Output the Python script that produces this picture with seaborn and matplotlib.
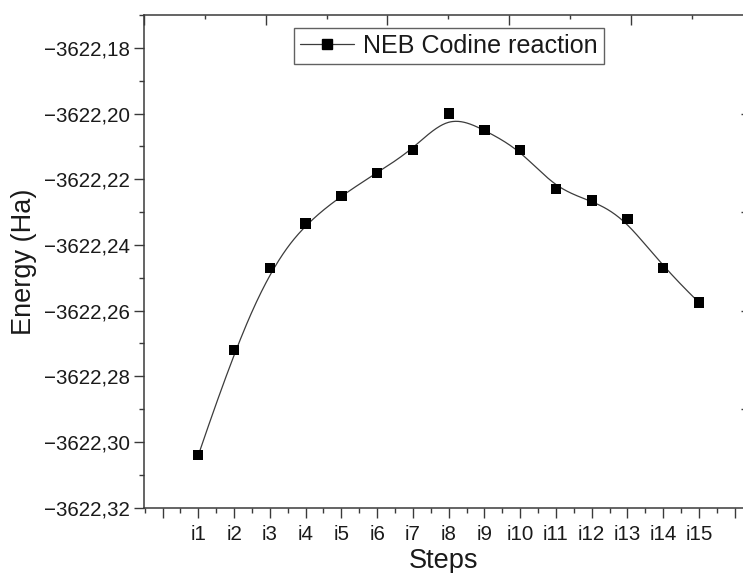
import numpy as np
import pandas as pd
import seaborn as sns
import matplotlib
matplotlib.use("Agg")
import matplotlib.pyplot as plt
from matplotlib.lines import Line2D
from matplotlib.ticker import FixedLocator, MultipleLocator, FuncFormatter

# NEB images along the reaction path and their total energies (Hartree)
steps = ["i1", "i2", "i3", "i4", "i5", "i6", "i7", "i8",
         "i9", "i10", "i11", "i12", "i13", "i14", "i15"]
step_pos = list(range(1, 16))
energy = [-3622.304, -3622.272, -3622.247, -3622.2335, -3622.225,
          -3622.218, -3622.211, -3622.200, -3622.205, -3622.211,
          -3622.223, -3622.2265, -3622.232, -3622.247, -3622.2575]
series_name = "NEB Codine reaction"


def bspline_curve(xs, ys, degree=3, samples=600):
    """Clamped uniform B-spline that uses the points as control points."""
    pts = np.column_stack([xs, ys]).astype(float)
    n = len(pts)
    inner = np.linspace(0, 1, n - degree + 1)
    knots = np.concatenate([[0.0] * degree, inner, [1.0] * degree])
    t = np.linspace(0, 1, samples)
    t[-1] -= 1e-12
    # Cox-de Boor recursion
    N = np.zeros((samples, len(knots) - 1))
    for i in range(len(knots) - 1):
        N[:, i] = (t >= knots[i]) & (t < knots[i + 1])
    for k in range(1, degree + 1):
        Nn = np.zeros((samples, len(knots) - 1 - k))
        for i in range(len(knots) - 1 - k):
            a = knots[i + k] - knots[i]
            b = knots[i + k + 1] - knots[i + 1]
            left = (t - knots[i]) / a * N[:, i] if a > 0 else 0
            right = (knots[i + k + 1] - t) / b * N[:, i + 1] if b > 0 else 0
            Nn[:, i] = left + right
        N = Nn
    curve = N @ pts
    return curve[:, 0], curve[:, 1]


cx, cy = bspline_curve(step_pos, energy)
df_pts = pd.DataFrame({"step": step_pos, "energy": energy})
df_curve = pd.DataFrame({"step": cx, "energy": cy})

sns.set_theme(style="white")
plt.rcParams["font.family"] = ["Liberation Sans", "DejaVu Sans"]

W, H = 743, 573
fig = plt.figure(figsize=(W / 100, H / 100), dpi=100)
left_px, right_px, top_px, bottom_px = 144, 744, 15, 507.7
ax = fig.add_axes([left_px / W, 1 - bottom_px / H,
                   (right_px - left_px) / W, (bottom_px - top_px) / H])

text_color = "#1a1a1a"
spine_color = "#3a3a3a"
line_color = "#3c3c3c"

sns.lineplot(data=df_curve, x="step", y="energy", ax=ax, sort=False,
             estimator=None, color=line_color, linewidth=0.9, legend=False)
sns.scatterplot(data=df_pts, x="step", y="energy", ax=ax, marker="s",
                s=7.4 ** 2, color="black", edgecolor="none", legend=False,
                zorder=3)

ax.set_xlim(-0.52, 16.26)
ax.set_ylim(-3622.32, -3622.17)

# bottom axis: steps
ax.xaxis.set_major_locator(FixedLocator(list(range(0, 17))))
ax.xaxis.set_minor_locator(MultipleLocator(0.5))
ax.set_xticklabels([""] + steps + [""])
# left axis: energy with comma decimal separator
ax.yaxis.set_major_locator(MultipleLocator(0.02))
ax.yaxis.set_minor_locator(MultipleLocator(0.01))
ax.yaxis.set_major_formatter(
    FuncFormatter(lambda v, p: ("\u2212%.2f" % abs(v)).replace(".", ",")))

ax.tick_params(axis="both", which="major", direction="out", length=7,
               width=1.0, color=spine_color, labelsize=14.8,
               labelcolor=text_color)
ax.tick_params(axis="both", which="minor", direction="out", length=3.5,
               width=1.0, color=spine_color)
ax.tick_params(axis="x", which="major", pad=5.5)
ax.tick_params(axis="y", which="major", pad=3)
ax.tick_params(bottom=True, left=True, which="both")

for side, sp in ax.spines.items():
    sp.set_color(spine_color)
    sp.set_linewidth(1.1)

ax.set_xlabel("Steps", fontsize=19.5, color=text_color, labelpad=2.5)
ax.set_ylabel("Energy (Ha)", fontsize=19.5, color=text_color, labelpad=5)

# top axis ticks (inward, no labels)
axt = ax.twiny()
axt.set_xlim(0, 4.93)
axt.xaxis.set_major_locator(MultipleLocator(1))
axt.xaxis.set_minor_locator(MultipleLocator(0.5))
axt.tick_params(axis="x", which="major", direction="in", length=7,
                width=1.0, color=spine_color, labeltop=False, top=True)
axt.tick_params(axis="x", which="minor", direction="in", length=3,
                width=1.0, color=spine_color, top=True)
axt.grid(False)
for sp in axt.spines.values():
    sp.set_visible(False)

# right axis ticks (inward, no labels)
axr = ax.twinx()
axr.set_ylim(-3622.32, -3622.17)
axr.yaxis.set_major_locator(FixedLocator([-3622.20, -3622.23, -3622.26, -3622.29]))
axr.tick_params(axis="y", which="major", direction="in", length=2,
                width=1.0, color=spine_color, labelright=False, right=True)
axr.grid(False)
for sp in axr.spines.values():
    sp.set_visible(False)

handle = Line2D([], [], color=line_color, linewidth=0.9, marker="s",
                markersize=7.4, markerfacecolor="black",
                markeredgecolor="black")
leg = ax.legend([handle], [series_name], loc="upper left",
                bbox_to_anchor=(0.25, 0.974), borderaxespad=0,
                fontsize=18.1, frameon=True, fancybox=False,
                handlelength=2.15, handletextpad=0.35, borderpad=0.24,
                labelcolor=text_color)
leg.get_frame().set_edgecolor(spine_color)
leg.get_frame().set_linewidth(1.0)
leg.set_zorder(5)

fig.savefig("out.png", dpi=100)
